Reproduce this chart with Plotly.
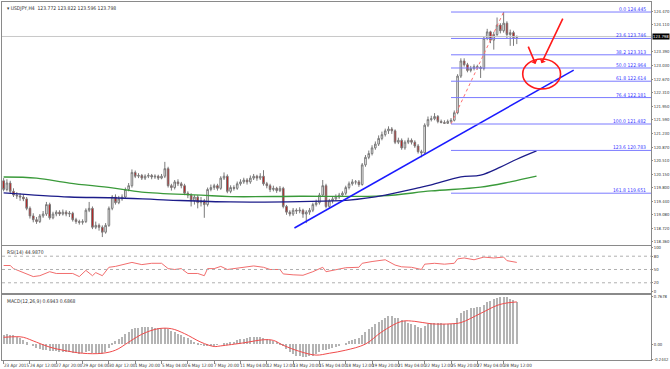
import plotly.graph_objects as go
from plotly.subplots import make_subplots

header = "\u25be USDJPY,H4  123.772 123.822 123.596 123.798"
rsi_label = "RSI(14) 44.9870"
macd_label = "MACD(12,26,9) 0.6943 0.6868"

time_labels = ["23 Apr 2015", "24 Apr 12:00", "27 Apr 20:00", "29 Apr 04:00", "30 Apr 12:00",
               "1 May 20:00", "5 May 04:00", "6 May 12:00", "7 May 20:00", "11 May 04:00",
               "12 May 12:00", "13 May 20:00", "15 May 04:00", "18 May 12:00", "19 May 20:00",
               "21 May 04:00", "22 May 12:00", "25 May 20:00", "27 May 04:00", "28 May 12:00"]
time_label_bars = [0, 8, 16, 24, 32, 40, 48, 56, 64, 72, 80, 88, 96, 104, 112, 120, 128, 136, 144, 152]

opens = [119.98, 119.75, 119.92, 119.70, 119.60, 119.58, 119.55, 119.50, 119.25, 119.05,
         118.95, 118.90, 119.05, 119.10, 119.35, 119.00, 119.10, 119.15, 119.10, 119.15,
         119.10, 119.12, 118.95, 118.90, 118.88, 118.90, 119.20, 119.25, 118.75, 118.80,
         118.75, 118.62, 118.80, 119.25, 119.55, 119.40, 119.50, 119.55, 119.75, 119.85,
         120.20, 120.10, 120.12, 120.05, 120.10, 120.12, 120.08, 120.10, 120.05, 120.10,
         120.30, 119.85, 119.80, 119.95, 119.90, 119.85, 119.65, 119.60, 119.45, 119.55,
         119.40, 119.45, 119.35, 119.75, 119.80, 119.85, 119.78, 120.05, 120.10, 119.70,
         119.80, 119.78, 119.90, 119.95, 120.00, 119.95, 120.05, 120.10, 120.05, 120.10,
         119.90, 119.85, 119.75, 119.78, 119.72, 119.78, 119.30, 119.15, 119.10, 119.20,
         119.18, 119.20, 119.10, 119.15, 119.20, 119.35, 119.40, 119.60, 119.85, 119.30,
         119.45, 119.50, 119.55, 119.60, 119.65, 119.80, 119.90, 119.95, 119.95, 119.88,
         120.40, 120.60, 120.70, 120.85, 120.95, 121.10, 121.20, 121.30, 121.35, 121.30,
         121.00, 121.05, 120.85, 121.00, 121.05, 121.00, 120.90, 120.75, 120.72, 121.45,
         121.60, 121.62, 121.68, 121.55, 121.52, 121.50, 121.55, 121.58, 121.78, 122.75,
         123.15, 123.05, 122.90, 122.95, 123.00, 122.98, 122.95, 123.75, 123.92, 123.70,
         123.85, 124.10, 123.95, 124.15, 123.85, 123.90, 123.772]
highs = [120.05, 120.02, 119.98, 119.78, 119.68, 119.65, 119.62, 119.55, 119.30, 119.12,
         119.02, 119.10, 119.18, 119.42, 119.40, 119.16, 119.20, 119.20, 119.22, 119.20,
         119.18, 119.16, 119.00, 118.95, 118.96, 119.25, 119.42, 119.30, 118.90, 118.85,
         118.80, 118.86, 119.30, 119.60, 119.62, 119.58, 119.62, 119.80, 119.92, 120.28,
         120.25, 120.18, 120.16, 120.15, 120.18, 120.16, 120.15, 120.14, 120.16, 120.48,
         120.35, 119.90, 120.00, 120.02, 119.95, 119.90, 119.70, 119.65, 119.60, 119.60,
         119.55, 119.50, 119.80, 119.88, 119.90, 119.90, 120.10, 120.20, 120.15, 119.86,
         119.86, 119.96, 120.02, 120.06, 120.05, 120.12, 120.16, 120.14, 120.18, 120.26,
         119.95, 119.90, 119.85, 119.82, 119.84, 119.82, 119.34, 119.20, 119.26, 119.25,
         119.28, 119.24, 119.20, 119.26, 119.40, 119.48, 119.66, 120.00, 119.90, 119.50,
         119.56, 119.62, 119.66, 119.70, 119.85, 119.96, 120.02, 120.00, 120.00, 120.45,
         120.66, 120.78, 120.92, 121.02, 121.18, 121.28, 121.36, 121.42, 121.40, 121.34,
         121.12, 121.10, 121.05, 121.12, 121.10, 121.05, 120.95, 120.80, 121.50, 121.68,
         121.70, 121.77, 121.72, 121.60, 121.58, 121.60, 121.64, 121.84, 122.80, 123.22,
         123.22, 123.10, 123.02, 123.06, 123.05, 123.02, 123.80, 124.00, 123.95, 123.92,
         124.30, 124.15, 124.445, 124.20, 123.98, 123.95, 123.822]
lows = [119.70, 119.70, 119.65, 119.55, 119.50, 119.45, 119.44, 119.20, 118.98, 118.88,
        118.84, 118.86, 119.00, 119.05, 118.95, 118.96, 119.04, 119.05, 119.06, 119.04,
        119.02, 118.90, 118.84, 118.82, 118.82, 118.86, 119.15, 118.70, 118.70, 118.66,
        118.49, 118.58, 118.76, 119.20, 119.35, 119.36, 119.45, 119.50, 119.70, 119.80,
        120.05, 120.05, 120.00, 120.00, 120.05, 120.02, 120.03, 120.00, 120.02, 120.05,
        119.80, 119.72, 119.75, 119.84, 119.78, 119.60, 119.52, 119.30, 119.35, 119.25,
        119.30, 119.00, 119.30, 119.70, 119.74, 119.72, 119.74, 120.00, 119.65, 119.65,
        119.72, 119.74, 119.85, 119.90, 119.88, 119.90, 120.00, 119.98, 120.00, 119.85,
        119.78, 119.68, 119.70, 119.66, 119.68, 119.25, 119.08, 119.04, 119.05, 119.10,
        119.12, 119.00, 118.86, 119.08, 119.15, 119.30, 119.35, 119.55, 119.25, 119.25,
        119.38, 119.45, 119.50, 119.55, 119.60, 119.75, 119.85, 119.88, 119.82, 119.85,
        120.35, 120.55, 120.65, 120.80, 120.90, 121.05, 121.15, 121.22, 121.22, 120.95,
        120.95, 120.80, 120.80, 120.95, 120.94, 120.85, 120.70, 120.60, 120.68, 121.40,
        121.55, 121.58, 121.50, 121.50, 121.50, 121.482, 121.50, 121.55, 121.74, 122.70,
        123.00, 122.85, 122.85, 122.90, 122.92, 122.70, 122.90, 123.70, 123.62, 123.45,
        123.80, 123.88, 123.90, 123.75, 123.55, 123.55, 123.596]
closes = [119.75, 119.92, 119.70, 119.60, 119.58, 119.55, 119.50, 119.25, 119.05, 118.95,
          118.90, 119.05, 119.10, 119.35, 119.00, 119.10, 119.15, 119.10, 119.15, 119.10,
          119.12, 118.95, 118.90, 118.88, 118.90, 119.20, 119.25, 118.75, 118.80, 118.75,
          118.62, 118.80, 119.25, 119.55, 119.40, 119.50, 119.55, 119.75, 119.85, 120.20,
          120.10, 120.12, 120.05, 120.10, 120.12, 120.08, 120.10, 120.05, 120.10, 120.30,
          119.85, 119.80, 119.95, 119.90, 119.85, 119.65, 119.60, 119.45, 119.55, 119.40,
          119.45, 119.35, 119.75, 119.80, 119.85, 119.78, 120.05, 120.10, 119.70, 119.80,
          119.78, 119.90, 119.95, 120.00, 119.95, 120.05, 120.10, 120.05, 120.10, 119.90,
          119.85, 119.75, 119.78, 119.72, 119.78, 119.30, 119.15, 119.10, 119.20, 119.18,
          119.20, 119.10, 119.15, 119.20, 119.35, 119.40, 119.60, 119.85, 119.30, 119.45,
          119.50, 119.55, 119.60, 119.65, 119.80, 119.90, 119.95, 119.95, 119.88, 120.40,
          120.60, 120.70, 120.85, 120.95, 121.10, 121.20, 121.30, 121.35, 121.30, 121.00,
          121.05, 120.85, 121.00, 121.05, 121.00, 120.90, 120.75, 120.72, 121.45, 121.60,
          121.62, 121.68, 121.55, 121.52, 121.50, 121.55, 121.58, 121.78, 122.75, 123.15,
          123.05, 122.90, 122.95, 123.00, 122.98, 122.95, 123.75, 123.92, 123.70, 123.85,
          124.10, 123.95, 124.15, 123.85, 123.90, 123.77, 123.798]
bars = list(range(len(closes)))

# moving averages (read at key bars)
ma_navy_bars = [0, 20, 33, 50, 69, 90, 105, 116, 126, 130, 139, 145, 151, 156, 162]
ma_navy_vals = [119.66, 119.55, 119.53, 119.47, 119.42, 119.43, 119.47, 119.60, 119.79, 119.87,
                120.08, 120.13, 120.34, 120.55, 120.77]
ma_green_bars = [0, 10, 20, 33, 42, 60, 69, 90, 115, 130, 145, 154, 162]
ma_green_vals = [120.08, 120.05, 119.92, 119.79, 119.68, 119.60, 119.56, 119.57, 119.58, 119.71,
                 119.81, 119.95, 120.10]

price_ticks = [124.470, 124.110, 123.390, 123.030, 122.670, 122.310, 121.950, 121.590, 121.230,
               120.870, 120.510, 120.150, 119.800, 119.440, 119.080, 118.720, 118.360]
last_price = 123.798

fib_ratios = ["0.0", "23.6", "38.2", "50.0", "61.8", "76.4", "100.0", "123.6", "161.8"]
fib_levels = [124.445, 123.746, 123.313, 122.964, 122.614, 122.181, 121.482, 120.783, 119.651]
fib_start_bar = 136
fib_anchor_bars = [136, 152]
fib_anchor_prices = [121.482, 124.445]

trend_bars = [88.4, 173.3]
trend_prices = [118.73, 122.91]

circle_bars = [157.8, 169.3]
circle_prices = [122.41, 123.20]
arrow1_bars = [159.3, 161.7]
arrow1_prices = [123.57, 123.07]
arrow2_bars = [170.2, 163.5]
arrow2_prices = [124.31, 123.09]

rsi_bars = [0, 2, 3, 6, 9, 11, 14, 16, 18, 21, 23, 25, 27, 28, 30, 32, 34, 36, 39, 42, 45, 48, 50,
            52, 54, 56, 59, 61, 62, 64, 66, 68, 70, 73, 76, 79, 81, 84, 85, 88, 91, 94, 97, 98,
            101, 104, 108, 109, 112, 116, 119, 121, 124, 127, 128, 131, 134, 137, 138, 140, 143,
            146, 149, 152, 153, 156]
rsi_vals = [59, 59, 52, 43, 34, 36, 45, 41, 41, 41, 34, 48, 36, 43, 36, 55, 57, 61, 66, 61, 64, 64,
            52, 50, 52, 41, 41, 36, 52, 52, 57, 50, 52, 56, 58, 55, 50, 50, 40, 38, 37, 45, 55, 45,
            50, 54, 55, 64, 68, 72, 60, 56, 55, 50, 62, 64, 62, 64, 74, 76, 72, 78, 76, 78, 70, 66]
rsi_levels = [80, 50, 20]

macd_hist = [0.15, 0.16, 0.15, 0.14, 0.12, 0.10, 0.07, 0.03, 0.00,
             -0.03, -0.06, -0.08, -0.09, -0.09,
             -0.11, -0.12, -0.12, -0.13, -0.13, -0.13, -0.13, -0.14, -0.15, -0.16, -0.15, -0.13,
             -0.12, -0.14, -0.15, -0.16, -0.16, -0.13,
             -0.06, 0.02,
             0.05, 0.08, 0.12, 0.16,
             0.20, 0.24, 0.26, 0.27, 0.28, 0.28, 0.28, 0.28,
             0.27, 0.27, 0.26, 0.26, 0.24, 0.21, 0.19,
             0.17, 0.14, 0.12, 0.10, 0.07,
             0.04, 0.01, -0.01, -0.03, -0.03, -0.02,
             -0.02, -0.01, 0.00, 0.02, 0.02,
             0.03, 0.04, 0.06, 0.08, 0.09, 0.10,
             0.11, 0.11, 0.12, 0.11, 0.10, 0.09,
             0.07, 0.05, 0.04, 0.02,
             -0.03, -0.08, -0.13, -0.16, -0.19, -0.20, -0.21, -0.21,
             -0.20, -0.19, -0.17, -0.13, -0.10, -0.10, -0.08, -0.07,
             -0.04, -0.02, 0.00, 0.02, 0.05, 0.07, 0.09, 0.10,
             0.15, 0.20, 0.24, 0.28, 0.32, 0.36, 0.40, 0.43,
             0.45, 0.45, 0.43, 0.42, 0.39, 0.37,
             0.35, 0.33, 0.31, 0.28, 0.26,
             0.29, 0.32, 0.34, 0.35, 0.35, 0.34, 0.33, 0.33, 0.33, 0.34,
             0.42, 0.50, 0.54, 0.56, 0.58, 0.59, 0.60, 0.60,
             0.64, 0.68, 0.71, 0.73, 0.75, 0.76, 0.77, 0.76, 0.74, 0.72, 0.69]
signal_bars = [0, 4, 6, 10, 14, 18, 24, 30, 34, 38, 42, 47, 51, 55, 60, 64, 66, 73, 79, 82, 85, 90,
               95, 99, 104, 110, 115, 121, 125, 130, 136, 139, 145, 150, 153, 156]
signal_vals = [0.11, 0.12, 0.11, 0.03, -0.05, -0.10, -0.15, -0.15, -0.10, 0.03, 0.16, 0.25, 0.25,
               0.17, 0.03, -0.04, -0.03, 0.02, 0.07, 0.06, -0.02, -0.12, -0.18, -0.15, -0.10, 0.00,
               0.20, 0.37, 0.37, 0.33, 0.33, 0.35, 0.50, 0.63, 0.67, 0.687]
macd_ticks = [0.7678, 0.0, -0.2442]
macd_ticktext = ["0.7678", "0.00", "-0.2442"]

FONT = "DejaVu Sans Condensed, Liberation Sans Narrow, DejaVu Sans, sans-serif"
FRAME = "#8a8a8a"
TXT = "#333333"

fig = make_subplots(rows=3, cols=1, shared_xaxes=True, vertical_spacing=0)

fig.add_trace(go.Candlestick(
    x=bars, open=opens, high=highs, low=lows, close=closes,
    increasing=dict(line=dict(color="#7a7a7a", width=1), fillcolor="#ffffff"),
    decreasing=dict(line=dict(color="#7a7a7a", width=1), fillcolor="#d00000"),
    whiskerwidth=0, hoverinfo="skip"), row=1, col=1)

fig.add_trace(go.Scatter(x=ma_green_bars, y=ma_green_vals, mode="lines", line_shape="spline",
                         line=dict(color="#3a9a3a", width=1.3), hoverinfo="skip"), row=1, col=1)
fig.add_trace(go.Scatter(x=ma_navy_bars, y=ma_navy_vals, mode="lines", line_shape="spline",
                         line=dict(color="#1c1c8a", width=1.3), hoverinfo="skip"), row=1, col=1)
fig.add_trace(go.Scatter(x=trend_bars, y=trend_prices, mode="lines",
                         line=dict(color="#1a1aff", width=1.5), hoverinfo="skip"), row=1, col=1)
fig.add_trace(go.Scatter(x=fib_anchor_bars, y=fib_anchor_prices, mode="lines",
                         line=dict(color="#ff7070", width=1, dash="dot"), hoverinfo="skip"), row=1, col=1)

# RSI
fig.add_trace(go.Scatter(x=rsi_bars, y=rsi_vals, mode="lines",
                         line=dict(color="#f26d6d", width=1), hoverinfo="skip"), row=2, col=1)

# MACD
fig.add_trace(go.Bar(x=bars, y=macd_hist, marker=dict(color="#b4b4b4", line=dict(width=0)),
                     width=0.38, hoverinfo="skip"), row=3, col=1)
fig.add_trace(go.Scatter(x=signal_bars, y=signal_vals, mode="lines", line_shape="spline",
                         line=dict(color="#f04b4b", width=1), hoverinfo="skip"), row=3, col=1)

XR = [-0.5, 196.8]
shapes = []
shapes.append(dict(type="line", xref="paper", yref="y", x0=0, x1=1, y0=last_price, y1=last_price,
                   line=dict(color="#c8c8c8", width=1)))
for lv in fib_levels:
    shapes.append(dict(type="line", xref="x", yref="y", x0=fib_start_bar, x1=XR[1], y0=lv, y1=lv,
                       line=dict(color="#7a7aff", width=1)))
for lv in rsi_levels:
    shapes.append(dict(type="line", xref="x2", yref="y2", x0=XR[0], x1=XR[1], y0=lv, y1=lv,
                       line=dict(color="#b0b0b0", width=1, dash="dot")))
shapes.append(dict(type="circle", xref="x", yref="y", x0=circle_bars[0], x1=circle_bars[1],
                   y0=circle_prices[0], y1=circle_prices[1], line=dict(color="#ff1a1a", width=1.6)))

annotations = []
for r, lv in zip(fib_ratios, fib_levels):
    annotations.append(dict(xref="paper", yref="y", x=0.995, y=lv, xanchor="right", yanchor="bottom",
                            text=f"{r} {lv:.3f}", showarrow=False, yshift=-2,
                            font=dict(family=FONT, size=5, color="#3a3aff")))
for bx, by in [(arrow1_bars, arrow1_prices), (arrow2_bars, arrow2_prices)]:
    annotations.append(dict(xref="x", yref="y", axref="x", ayref="y", x=bx[1], y=by[1],
                            ax=bx[0], ay=by[0], showarrow=True, arrowhead=1, arrowsize=0.7,
                            arrowwidth=1.6, arrowcolor="#ff1a1a", text=""))
annotations.append(dict(xref="paper", yref="y", x=1.0, y=last_price, xanchor="left", yanchor="middle",
                        text=f"{last_price:.3f}", showarrow=False, bgcolor="#000000", borderpad=0,
                        xshift=1, font=dict(family=FONT, size=4.2, color="#ffffff")))
annotations.append(dict(xref="paper", yref="paper", x=0.004, y=0.997, xanchor="left", yanchor="top",
                        text=header, showarrow=False, font=dict(family=FONT, size=5, color=TXT)))
annotations.append(dict(xref="paper", yref="paper", x=0.004, y=0.3165, xanchor="left", yanchor="top",
                        text=rsi_label, showarrow=False, font=dict(family=FONT, size=5, color=TXT)))
annotations.append(dict(xref="paper", yref="paper", x=0.004, y=0.179, xanchor="left", yanchor="top",
                        text=macd_label, showarrow=False, font=dict(family=FONT, size=5, color=TXT)))
for lab, b in zip(time_labels, time_label_bars):
    annotations.append(dict(xref="x3", yref="paper", x=b, y=0, xanchor="left", yanchor="top",
                            text=lab, showarrow=False, yshift=-1, xshift=-2,
                            font=dict(family=FONT, size=4.5, color=TXT)))

fig.update_layout(width=670, height=369, margin=dict(l=2, r=19, t=2, b=9, autoexpand=False),
                  paper_bgcolor="#ffffff", plot_bgcolor="#ffffff", showlegend=False,
                  bargap=0, shapes=shapes, annotations=annotations)

common_x = dict(range=XR, showgrid=False, zeroline=False, showline=True, mirror=True,
                linecolor=FRAME, linewidth=1, rangeslider=dict(visible=False), automargin=False)
fig.update_layout(
    xaxis=dict(**common_x, showticklabels=False, ticks=""),
    xaxis2=dict(**common_x, showticklabels=False, ticks=""),
    xaxis3=dict(**common_x, showticklabels=False, ticks="outside", ticklen=3, tickcolor=FRAME,
                tickvals=time_label_bars),
)
tickfont = dict(family=FONT, size=4.2, color=TXT)
common_y = dict(side="right", showgrid=False, zeroline=False, showline=True, mirror=True,
                linecolor=FRAME, linewidth=1, ticks="outside", ticklen=1, tickcolor=FRAME,
                tickfont=tickfont, automargin=False)
fig.update_layout(
    yaxis=dict(**common_y, domain=[0.3212, 1.0], range=[118.28, 124.71], tickvals=price_ticks,
               ticktext=[f"{v:.3f}" for v in price_ticks]),
    yaxis2=dict(**common_y, domain=[0.1872, 0.3184], range=[-3, 103], tickvals=[100, 80, 50, 20, 0]),
    yaxis3=dict(**common_y, domain=[0.0, 0.1816], range=[-0.26, 0.80], tickvals=macd_ticks,
                ticktext=macd_ticktext),
)

fig.write_html("out.html", config={"displayModeBar": False},
               post_script="document.body.style.margin='0';document.body.style.overflow='hidden';")
